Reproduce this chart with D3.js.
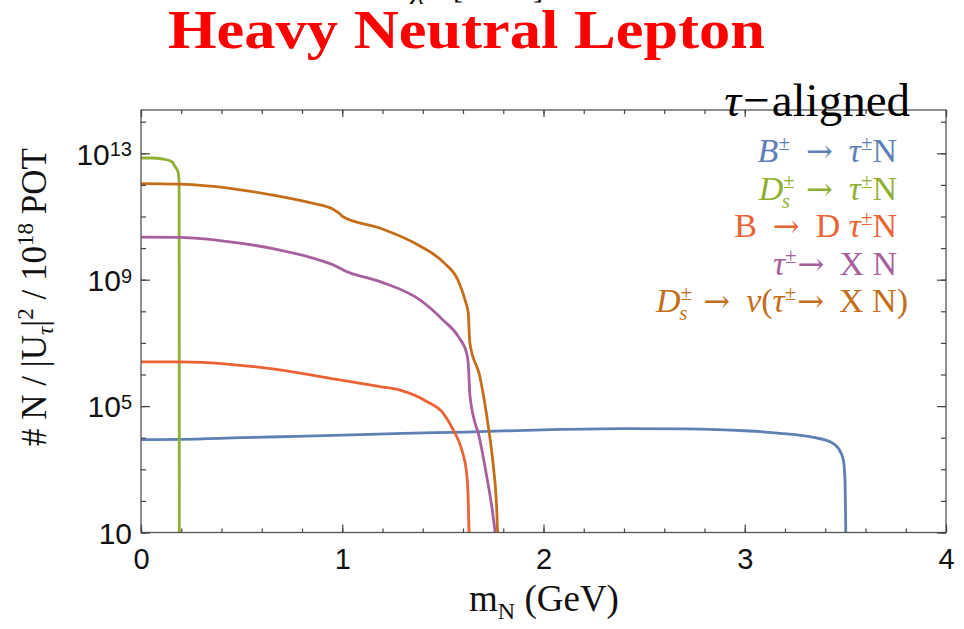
<!DOCTYPE html>
<html>
<head>
<meta charset="utf-8">
<script src="https://cdn.jsdelivr.net/npm/d3@7"></script>
<style>
  body { margin: 0; background: #fff; }
  svg { display: block; }
</style>
</head>
<body>
<svg id="chart" width="964" height="629"></svg>
<script>
// Heavy neutral lepton yield per |U_tau|^2 for 1e18 protons on target, tau-aligned mixing.
// Masses in GeV, yields in events.

// B± → τ± N
const massBtoTauN = [0, 0.2, 0.5, 0.69, 1.0, 1.3, 1.61, 2.0, 2.4, 2.7, 3.0, 3.175, 3.341, 3.424, 3.465, 3.49, 3.498, 3.502];
const yieldBtoTauN = [8.7e3, 8.9e3, 1.0e4, 1.07e4, 1.2e4, 1.38e4, 1.51e4, 1.78e4, 1.95e4, 1.9e4, 1.66e4, 1.38e4, 1.02e4, 7.4e3, 4.6e3, 1.95e3, 4.6e2, 10];

// D_s± → τ± N
const massDsToTauN = [0, 0.05, 0.109, 0.154, 0.169, 0.184, 0.1895, 0.1905];
const yieldDsToTauN = [7.1e12, 7.1e12, 6.6e12, 5.4e12, 3.8e12, 2.6e12, 1.2e12, 10];

// B → D τ± N
const massBtoDTauN = [0, 0.194, 0.442, 0.691, 0.939, 1.188, 1.287, 1.42, 1.502, 1.552, 1.594, 1.618, 1.626, 1.63];
const yieldBtoDTauN = [2.5e6, 2.5e6, 2.1e6, 1.4e6, 7.6e5, 4.1e5, 3.2e5, 1.4e5, 5.9e4, 1.74e4, 4.1e3, 7.4e2, 1.07e2, 10];

// τ± → X N
const massTauToXN = [0, 0.194, 0.442, 0.691, 0.855, 0.954, 0.989, 1.004, 1.188, 1.386, 1.502, 1.577, 1.618, 1.626, 1.635, 1.684, 1.718, 1.743, 1.76];
const yieldTauToXN = [2.24e10, 2.19e10, 1.58e10, 8.7e9, 4.8e9, 2.95e9, 2.29e9, 2.04e9, 8.7e8, 2.29e8, 5.2e7, 1.58e7, 4.7e6, 2.24e6, 2.0e5, 8.5e3, 5.9e2, 66, 10];

// D_s± → ν (τ± → X N)
const massDsToNuTau = [0, 0.194, 0.442, 0.691, 0.855, 0.954, 0.989, 1.004, 1.188, 1.386, 1.502, 1.577, 1.61, 1.626, 1.634, 1.684, 1.726, 1.751, 1.767, 1.772];
const yieldDsToNuTau = [1.1e12, 1.05e12, 7.8e11, 4.3e11, 2.6e11, 1.7e11, 1.2e11, 9.8e10, 4.3e10, 1.17e10, 3.6e9, 9.1e8, 2.3e8, 8.7e7, 1e7, 8.5e5, 2.2e4, 1.2e3, 66, 10];

const seriesColors = ["#5E81B5", "#8FB032", "#EB6235", "#A5609D", "#C56E1A"];

// axis ticks
const xMajorTicks = [0, 1, 2, 3, 4];
const xMinorTicks = d3.range(0, 4.001, 0.2);
const yMajorTicks = [1e1, 1e5, 1e9, 1e13];
const yMinorTicks = d3.range(1, 15).map(e => Math.pow(10, e));

// legend text: [text, style] segments
const legendHeader = ["τ", "−", "aligned"];
const legendEntries = [
  [["B", "i"], ["±", "sup"], ["→", "arrow"], ["τ", "i"], ["±", "sup"], ["N", ""]],
  [["D", "i"], ["±", "sup"], ["s", "isub"], ["→", "arrow"], ["τ", "i"], ["±", "sup"], ["N", ""]],
  [["B", ""], ["→", "arrow"], ["D ", ""], ["τ", "i"], ["±", "sup"], ["N", ""]],
  [["τ", "i"], ["±", "sup"], ["→", "arrowTight"], ["X N", ""]],
  [["D", "i"], ["±", "sup"], ["s", "isub"], ["→", "arrow"], ["ν", "i"], ["(", ""], ["τ", "i"], ["±", "sup"], ["→", "arrowTight"], ["X N)", ""]]
];

const series = [
  { m: massBtoTauN, n: yieldBtoTauN },
  { m: massDsToTauN, n: yieldDsToTauN },
  { m: massBtoDTauN, n: yieldBtoDTauN },
  { m: massTauToXN, n: yieldTauToXN },
  { m: massDsToNuTau, n: yieldDsToNuTau }
];

const svg = d3.select("#chart");
const plot = { left: 141, right: 946, top: 110, bottom: 532.5 };

const x = d3.scaleLinear().domain([0, 4]).range([plot.left, plot.right]);
const y = d3.scaleLog().domain([10, Math.pow(10, 14.37)]).range([plot.bottom, plot.top]);

const serif = "'Liberation Serif', 'Times New Roman', serif";
const sans = "'Liberation Sans', Arial, sans-serif";
const arrowFont = "'DejaVu Serif', serif";
const axisColor = "#444";

// clipped fragment of a heading above the frame
const frag = svg.append("g").attr("font-family", serif).attr("font-size", 30).attr("fill", "#000");
frag.append("text").attr("x", 412).attr("y", -2).attr("font-style", "italic").text("χ");
frag.append("text").attr("x", 453).attr("y", -2).text("[");
frag.append("text").attr("x", 533).attr("y", -2).text("]");

// title
svg.append("text")
  .attr("x", 168).attr("y", 48)
  .attr("font-family", serif).attr("font-weight", "bold")
  .attr("font-size", 55).attr("fill", "#FF0000")
  .attr("textLength", 597).attr("lengthAdjust", "spacingAndGlyphs")
  .text("Heavy Neutral Lepton");

svg.append("defs").append("clipPath").attr("id", "plotClip")
  .append("rect")
  .attr("x", plot.left).attr("y", plot.top)
  .attr("width", plot.right - plot.left).attr("height", plot.bottom - plot.top);

// curves
const line = d3.line()
  .x(d => x(d[0]))
  .y(d => y(d[1]))
  .curve(d3.curveMonotoneX);

const curves = svg.append("g").attr("clip-path", "url(#plotClip)");
series.forEach((s, i) => {
  curves.append("path")
    .datum(s.m.map((m, k) => [m, s.n[k]]))
    .attr("d", line)
    .attr("fill", "none")
    .attr("stroke", seriesColors[i])
    .attr("stroke-width", 2.8)
    .attr("stroke-linejoin", "round");
});

// frame
svg.append("rect")
  .attr("x", plot.left).attr("y", plot.top)
  .attr("width", plot.right - plot.left).attr("height", plot.bottom - plot.top)
  .attr("fill", "none").attr("stroke", "#555").attr("stroke-width", 1.3);

function styleAxis(g) {
  g.select(".domain").remove();
  g.selectAll(".tick line").attr("stroke", axisColor).attr("stroke-width", 1.2);
}

// bottom axis
svg.append("g").attr("transform", `translate(0,${plot.bottom})`)
  .call(d3.axisBottom(x).tickValues(xMinorTicks).tickSize(-4).tickFormat(""))
  .call(styleAxis);
const xAxis = svg.append("g").attr("transform", `translate(0,${plot.bottom})`)
  .call(d3.axisBottom(x).tickValues(xMajorTicks).tickSize(-8).tickPadding(16).tickFormat(d3.format("d")))
  .call(styleAxis);
xAxis.selectAll(".tick text")
  .attr("font-family", sans).attr("font-size", 29).attr("fill", "#111");

// top axis
svg.append("g").attr("transform", `translate(0,${plot.top})`)
  .call(d3.axisTop(x).tickValues(xMinorTicks).tickSize(-4).tickFormat(""))
  .call(styleAxis);
svg.append("g").attr("transform", `translate(0,${plot.top})`)
  .call(d3.axisTop(x).tickValues(xMajorTicks).tickSize(-7).tickFormat(""))
  .call(styleAxis);

// left axis
svg.append("g").attr("transform", `translate(${plot.left},0)`)
  .call(d3.axisLeft(y).tickValues(yMinorTicks.filter(v => v <= y.domain()[1])).tickSize(-5).tickFormat(""))
  .call(styleAxis);
const yAxis = svg.append("g").attr("transform", `translate(${plot.left},0)`)
  .call(d3.axisLeft(y).tickValues(yMajorTicks).tickSize(-9).tickPadding(9).tickFormat(""))
  .call(styleAxis);
yAxis.selectAll(".tick text").each(function (d) {
  const t = d3.select(this)
    .attr("font-family", sans).attr("font-size", 30).attr("fill", "#111")
    .attr("dy", "0.36em");
  const e = Math.round(Math.log10(d));
  t.append("tspan").text("10");
  if (e !== 1) {
    t.append("tspan").attr("dy", "-0.42em").attr("font-size", 20).text(e);
  }
});

// right axis
svg.append("g").attr("transform", `translate(${plot.right},0)`)
  .call(d3.axisRight(y).tickValues(yMinorTicks.filter(v => v <= y.domain()[1])).tickSize(-5).tickFormat(""))
  .call(styleAxis);
svg.append("g").attr("transform", `translate(${plot.right},0)`)
  .call(d3.axisRight(y).tickValues(yMajorTicks).tickSize(-9).tickFormat(""))
  .call(styleAxis);

// axis titles
const xt = svg.append("text")
  .attr("x", 544).attr("y", 611)
  .attr("text-anchor", "middle")
  .attr("font-family", serif).attr("font-size", 37).attr("fill", "#111");
xt.append("tspan").text("m");
xt.append("tspan").attr("dy", 8).attr("font-size", 24).text("N");
xt.append("tspan").attr("dy", -8).text(" (GeV)");

const yt = svg.append("text")
  .attr("transform", "translate(46,297) rotate(-90)")
  .attr("text-anchor", "middle")
  .attr("font-family", serif).attr("font-size", 35).attr("fill", "#111");
yt.append("tspan").text("# N / |U");
yt.append("tspan").attr("dy", 7).attr("font-size", 23).attr("font-style", "italic").text("τ");
yt.append("tspan").attr("dy", -7).text("|");
yt.append("tspan").attr("dy", -13).attr("font-size", 23).text("2");
yt.append("tspan").attr("dy", 13).text(" / 10");
yt.append("tspan").attr("dy", -13).attr("font-size", 23).text("18");
yt.append("tspan").attr("dy", 13).text(" POT");

// legend
svg.append("text")
  .attr("x", 910).attr("y", 116)
  .attr("text-anchor", "end")
  .attr("font-family", serif).attr("font-size", 47).attr("fill", "#000")
  .call(t => {
    t.append("tspan").attr("font-style", "italic").text(legendHeader[0]);
    t.append("tspan").attr("dx", 2).text(legendHeader[1]);
    t.append("tspan").attr("dx", 2).text(legendHeader[2]);
  });

const legendRight = [897, 897, 897, 897, 908];
const legendBaseline = [162, 199.5, 237, 274.5, 312];
legendEntries.forEach((segs, i) => {
  const t = svg.append("text")
    .attr("x", legendRight[i]).attr("y", legendBaseline[i])
    .attr("text-anchor", "end")
    .attr("font-family", serif).attr("font-size", 34)
    .attr("fill", seriesColors[i]);
  let shift = 0;
  let pad = 0;
  segs.forEach(([txt, st]) => {
    const sp = t.append("tspan").text(txt);
    let target = 0;
    let dx = pad;
    pad = 0;
    if (st === "i") sp.attr("font-style", "italic");
    if (st === "arrow") {
      sp.attr("font-family", arrowFont).attr("font-size", 32);
      dx += 16; pad = 16;
    }
    if (st === "arrowTight") {
      sp.attr("font-family", arrowFont).attr("font-size", 32);
      dx += 1; pad = 15;
    }
    if (st === "sup") { sp.attr("font-size", 21); target = -12; }
    if (st === "isub") {
      sp.attr("font-size", 21).attr("font-style", "italic");
      dx -= 13;
      target = 8;
    }
    if (dx) sp.attr("dx", dx);
    sp.attr("dy", target - shift);
    shift = target;
  });
});
</script>
</body>
</html>
